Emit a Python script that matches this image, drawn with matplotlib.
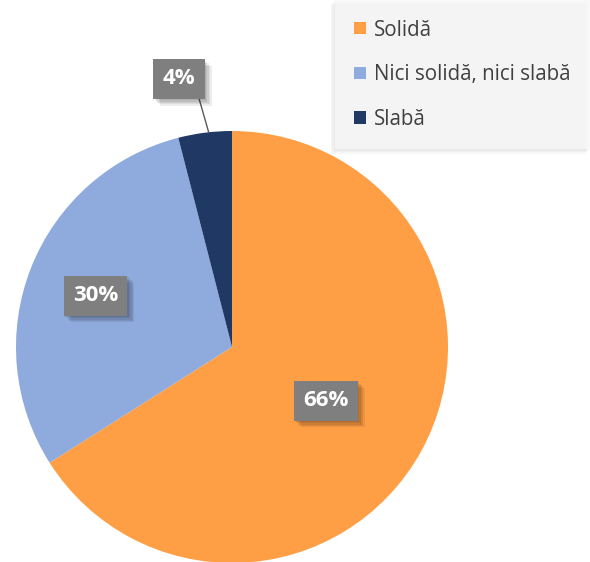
import numpy as np
import matplotlib
matplotlib.use("Agg")
import matplotlib.pyplot as plt
import matplotlib.patheffects as pe

plt.rcParams['font.family'] = ['Open Sans', 'DejaVu Sans']

categories = ['Solidă', 'Nici solidă, nici slabă', 'Slabă']
values = [66, 30, 4]
labels = ['66%', '30%', '4%']
colors = ['#FF9F45', '#8FAADC', '#203864']

W, H = 590, 562
fig = plt.figure(figsize=(W / 100, H / 100), dpi=100)

# pie centre (232, 347) px from top-left, radius 216 px
cx, cy, r = 232, H - 347, 216
ax = fig.add_axes([(cx - r) / W, (cy - r) / H, 2 * r / W, 2 * r / H])
ax.set_aspect('equal')
ax.axis('off')

wedges, _ = ax.pie(values, colors=colors, startangle=90, counterclock=False,
                   radius=1, center=(0, 0), frame=False)
ax.set_xlim(-1, 1)
ax.set_ylim(-1, 1)

box = dict(boxstyle='square,pad=0.42', fc='#7F7F7F', ec='none')
# soft drop shadow: a few stacked faint offsets
shadow = [pe.SimplePatchShadow(offset=(o, -o), shadow_rgbFace='black', alpha=0.07)
          for o in (1, 2, 3, 4, 5)] + [pe.Normal()]

# label radius / angle tweaks (per slice, like Excel's best fit)
lab_r = [0.5, 0.675, 1.265]
lab_da = [-1.0, 1.0, 4.0]
for w, lab, lr, da in zip(wedges, labels, lab_r, lab_da):
    mid = np.deg2rad((w.theta1 + w.theta2) / 2 + da)
    x, y = lr * np.cos(mid), lr * np.sin(mid)
    if lr > 1:
        edge = np.deg2rad((w.theta1 + w.theta2) / 2 - 1)
        t = ax.annotate(lab, xy=(np.cos(edge), np.sin(edge)), xytext=(x, y),
                        ha='center', va='center', color='white', fontsize=16,
                        fontweight='bold', bbox=box,
                        arrowprops=dict(arrowstyle='-', color='#595959', lw=1,
                                        shrinkA=0, shrinkB=0,
                                        relpos=(1.0, 0.2)),
                        annotation_clip=False)
    else:
        t = ax.text(x, y, lab, ha='center', va='center', color='white',
                    fontsize=16, fontweight='bold', bbox=box)
    t.get_bbox_patch().set_path_effects(shadow)

leg = fig.legend(wedges, categories, loc='upper right', bbox_to_anchor=(1.0, 1.0),
                 frameon=True, fancybox=False, facecolor='#F8F8F8', edgecolor='none',
                 fontsize=14.8, handlelength=0.55, handleheight=0.55, handletextpad=0.4,
                 labelspacing=1.15, borderpad=0.95, borderaxespad=0.0, labelcolor='#404040')
leg.get_frame().set_path_effects(
    [pe.SimplePatchShadow(offset=(-o, -o), alpha=0.04) for o in (1, 2, 3)] + [pe.Normal()])

fig.savefig('out.png', dpi=100)
